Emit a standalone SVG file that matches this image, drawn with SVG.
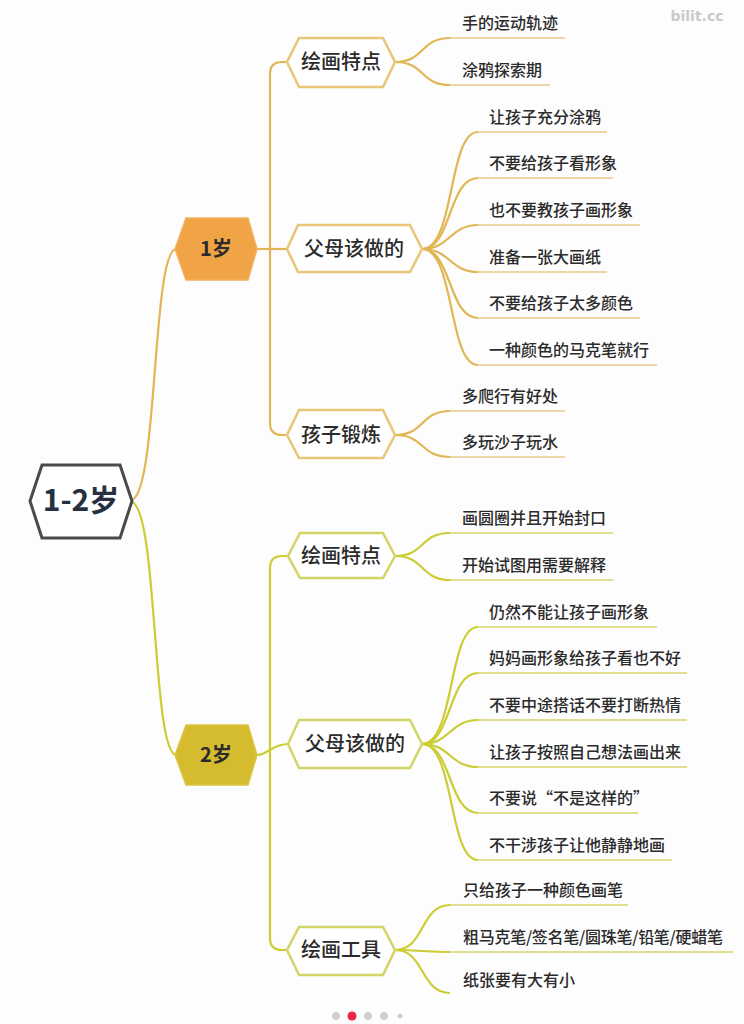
<svg xmlns="http://www.w3.org/2000/svg" width="744" height="1024" viewBox="0 0 744 1024">
<style>
text{font-family:"Noto Sans CJK SC","Noto Sans",sans-serif;fill:#2b2b2b}
.leaf{font-size:16px;font-weight:500}
.node{font-size:20px;font-weight:500;text-anchor:middle}
.age{font-size:20px;font-weight:700;text-anchor:middle}
.c1{fill:none;stroke:#e2b555;stroke-width:2.2}
.c2{fill:none;stroke:#cccc34;stroke-width:2.2}
.u1{fill:none;stroke:#e6c888;stroke-width:1.6}
.u2{fill:none;stroke:#d4d46a;stroke-width:1.6}
.h1{fill:#fff;stroke:#e8c677;stroke-width:2.5}
.h2{fill:#fff;stroke:#d2d466;stroke-width:2.5}
</style>
<rect width="744" height="1024" fill="#fdfdfd"/>
<text x="697" y="21" style="font-family:'DejaVu Sans',sans-serif;font-size:14px;font-weight:700;fill:#c9c9c9;text-anchor:middle">bilit.cc</text>

<g id="connectors">
  <path class="c1" d="M132,500 C158,490 152,252 176,249"/>
  <path class="c2" d="M132,502 C158,512 152,752 176,755"/>
  <path class="c1" d="M287,62 H282 Q270,62 270,74 V423 Q270,435 282,435 H287"/>
  <path class="c1" d="M257,249 H287"/>
  <path class="c2" d="M288,556 H282 Q270,556 270,568 V938 Q270,950 282,950 H287"/>
  <path class="c2" d="M257,755 C268,755 272,744 288,744"/>
  <!-- 1: 绘画特点 leaves -->
  <path class="c1" d="M395,62 C425,62 420,38 450,38"/>
  <path class="u1" d="M450,38 H565"/>
  <path class="c1" d="M395,62 C425,62 420,85 450,85"/>
  <path class="u1" d="M450,85 H550"/>
  <!-- 1: 父母该做的 leaves -->
  <path class="c1" d="M422,249 C455,249 448,132 478,132"/>
  <path class="u1" d="M478,132 H607"/>
  <path class="c1" d="M422,249 C452,249 448,178 478,178"/>
  <path class="u1" d="M478,178 H613"/>
  <path class="c1" d="M422,249 C450,249 450,225 478,225"/>
  <path class="u1" d="M478,225 H640"/>
  <path class="c1" d="M422,249 C450,249 450,272 478,272"/>
  <path class="u1" d="M478,272 H607"/>
  <path class="c1" d="M422,249 C452,249 448,318 478,318"/>
  <path class="u1" d="M478,318 H640"/>
  <path class="c1" d="M422,249 C455,249 448,365 478,365"/>
  <path class="u1" d="M478,365 H657"/>
  <!-- 1: 孩子锻炼 leaves -->
  <path class="c1" d="M395,435 C425,435 420,411 450,411"/>
  <path class="u1" d="M450,411 H565"/>
  <path class="c1" d="M395,435 C425,435 420,457 450,457"/>
  <path class="u1" d="M450,457 H565"/>
  <!-- 2: 绘画特点 leaves -->
  <path class="c2" d="M395,556 C425,556 420,533 450,533"/>
  <path class="u2" d="M450,533 H613"/>
  <path class="c2" d="M395,556 C425,556 420,580 450,580"/>
  <path class="u2" d="M450,580 H613"/>
  <!-- 2: 父母该做的 leaves -->
  <path class="c2" d="M422,744 C455,744 448,627 478,627"/>
  <path class="u2" d="M478,627 H657"/>
  <path class="c2" d="M422,744 C452,744 448,673 478,673"/>
  <path class="u2" d="M478,673 H687"/>
  <path class="c2" d="M422,744 C450,744 450,720 478,720"/>
  <path class="u2" d="M478,720 H687"/>
  <path class="c2" d="M422,744 C450,744 450,767 478,767"/>
  <path class="u2" d="M478,767 H687"/>
  <path class="c2" d="M422,744 C452,744 448,813 478,813"/>
  <path class="u2" d="M478,813 H638"/>
  <path class="c2" d="M422,744 C455,744 448,860 478,860"/>
  <path class="u2" d="M478,860 H672"/>
  <!-- 2: 绘画工具 leaves -->
  <path class="c2" d="M395,950 C425,950 420,905 450,905"/>
  <path class="u2" d="M450,905 H628"/>
  <path class="c2" d="M395,950 C420,950 425,952 450,952"/>
  <path class="u2" d="M450,952 H733"/>
  <path class="c2" d="M395,950 C425,950 420,993 450,993"/>
</g>

<g id="root">
  <polygon points="30,501 42,465 120,465 132,501 120,538 42,538" fill="#fff" stroke="#4a4a4a" stroke-width="3"/>
  <text x="81" y="511" style="font-size:30px;font-weight:700;text-anchor:middle;fill:#263040">1-2岁</text>
</g>

<g id="age1">
  <polygon points="175,249 186,218 248,218 257,249 248,280 186,280" fill="#f0a445" stroke="#f2b060" stroke-width="1.5"/>
  <text class="age" x="216" y="256">1岁</text>
</g>
<g id="age2">
  <polygon points="175,755 186,725 248,725 257,755 248,785 186,785" fill="#d5bb2e" stroke="#dcc545" stroke-width="1.5"/>
  <text class="age" x="216" y="762">2岁</text>
</g>

<g id="n1-draw">
  <polygon class="h1" points="287,62 299,38 383,38 395,62 383,87 299,87"/>
  <text class="node" x="341" y="69">绘画特点</text>
</g>
<g id="n1-parent">
  <polygon class="h1" points="287,249 298,225 410,225 422,249 410,272 298,272"/>
  <text class="node" x="354" y="256">父母该做的</text>
</g>
<g id="n1-child">
  <polygon class="h1" points="287,435 299,410 383,410 395,435 383,458 299,458"/>
  <text class="node" x="341" y="442">孩子锻炼</text>
</g>
<g id="n2-draw">
  <polygon class="h2" points="288,556 300,533 383,533 395,556 383,578 300,578"/>
  <text class="node" x="341" y="563">绘画特点</text>
</g>
<g id="n2-parent">
  <polygon class="h2" points="288,744 299,720 410,720 422,744 410,768 299,768"/>
  <text class="node" x="355" y="751">父母该做的</text>
</g>
<g id="n2-tools">
  <polygon class="h2" points="287,950 299,927 383,927 395,950 383,975 299,975"/>
  <text class="node" x="341" y="957">绘画工具</text>
</g>

<g id="leaves">
  <text class="leaf" x="462" y="29">手的运动轨迹</text>
  <text class="leaf" x="462" y="76">涂鸦探索期</text>
  <text class="leaf" x="489" y="123">让孩子充分涂鸦</text>
  <text class="leaf" x="489" y="169">不要给孩子看形象</text>
  <text class="leaf" x="489" y="216">也不要教孩子画形象</text>
  <text class="leaf" x="489" y="263">准备一张大画纸</text>
  <text class="leaf" x="489" y="309">不要给孩子太多颜色</text>
  <text class="leaf" x="489" y="356">一种颜色的马克笔就行</text>
  <text class="leaf" x="462" y="402">多爬行有好处</text>
  <text class="leaf" x="462" y="448">多玩沙子玩水</text>
  <text class="leaf" x="462" y="524">画圆圈并且开始封口</text>
  <text class="leaf" x="462" y="571">开始试图用需要解释</text>
  <text class="leaf" x="489" y="618">仍然不能让孩子画形象</text>
  <text class="leaf" x="489" y="664">妈妈画形象给孩子看也不好</text>
  <text class="leaf" x="489" y="711">不要中途搭话不要打断热情</text>
  <text class="leaf" x="489" y="758">让孩子按照自己想法画出来</text>
  <text class="leaf" x="489" y="804">不要说“不是这样的”</text>
  <text class="leaf" x="489" y="851">不干涉孩子让他静静地画</text>
  <text class="leaf" x="463" y="896">只给孩子一种颜色画笔</text>
  <text class="leaf" x="463" y="943" textLength="260">粗马克笔/签名笔/圆珠笔/铅笔/硬蜡笔</text>
  <text class="leaf" x="463" y="986">纸张要有大有小</text>
</g>

<g id="pager">
  <circle cx="336" cy="1016" r="4" fill="#d0d0d0"/>
  <circle cx="352" cy="1016" r="4.5" fill="#e8284a"/>
  <circle cx="368" cy="1016" r="4" fill="#d0d0d0"/>
  <circle cx="384" cy="1016" r="4" fill="#d0d0d0"/>
  <circle cx="400" cy="1016" r="2.5" fill="#d0d0d0"/>
</g>
</svg>
